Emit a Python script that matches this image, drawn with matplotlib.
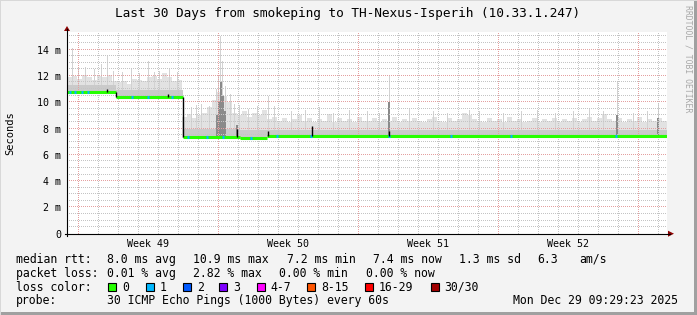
import numpy as np
import matplotlib.pyplot as plt
from matplotlib.patches import Rectangle, Polygon

# 等宽字体，和 rrdtool 的图接近
plt.rcParams['font.family'] = ['DejaVu Sans Mono']

# ---- 数据 (单位 ms, x 为距图起点的天数) ----
col_width = 0.25
smoke_top = [11.9, 12.0, 11.8, 12.1, 11.9, 11.7, 12.0, 11.9, 12.1, 11.6,
             11.5, 11.6, 11.4, 11.8, 11.7, 11.6, 11.9, 12.0, 11.8, 12.2, 11.9, 11.6, 11.7,
             8.9, 9.1, 8.8, 9.0, 9.2, 9.6, 10.2, 10.8, 10.5, 10.0, 9.2, 9.0, 9.3, 8.9, 9.2, 9.0, 9.4,
             8.7, 8.9, 8.6, 8.8, 8.5, 8.7, 9.0, 8.6, 8.8, 8.5, 8.7, 8.6, 9.1, 8.5, 8.8, 8.6, 8.7, 8.5, 8.9, 8.6,
             8.6, 8.8, 8.5, 8.7, 8.6, 8.9, 8.5, 8.7, 8.6, 8.8, 8.6, 8.5, 8.7, 8.9, 8.6, 8.5, 8.8, 8.6, 8.7, 9.2,
             9.0, 8.7, 8.6, 8.5, 8.8, 8.6, 8.7, 8.5, 8.9, 8.6, 8.7, 8.5, 8.6, 8.8, 8.5, 8.7, 8.6, 8.8, 8.5, 8.7,
             8.6, 8.8, 8.5, 8.7, 8.9, 8.6, 8.8, 9.1, 8.7, 8.6, 8.8, 8.5, 8.7, 8.6, 8.9, 8.5, 8.7, 8.6, 8.8, 8.6]

median_days = [0, 2.47, 5.8, 8.65, 10.0, 30]
median_vals = [10.8, 10.4, 7.38, 7.27, 7.42]
band_vals = [11.3, 10.9, 7.95, 7.85, 7.9]

# 细的高烟柱
spike_days = [0.25, 0.55, 0.9, 1.35, 1.7, 2.0, 2.3, 2.75, 3.2, 3.6, 4.05, 4.35, 4.6, 5.1, 5.5,
              6.2, 6.45, 6.7, 7.1, 7.45, 7.55, 7.65, 7.75, 7.9, 8.15, 8.35, 8.6, 9.05, 9.5,
              10.05, 10.35, 11.2, 11.9, 12.6, 13.3, 14.1, 15.0, 15.6, 16.1, 17.1, 18.3, 19.0,
              20.1, 20.6, 21.8, 22.7, 23.5, 24.4, 25.3, 26.1, 26.8, 27.5, 28.3, 29.0, 29.55]
spike_tops = [14.1, 12.6, 12.7, 12.5, 12.9, 13.6, 12.4, 12.3, 12.5, 12.2, 13.1, 12.3, 12.4, 12.5, 12.3,
              9.6, 9.8, 9.9, 9.7, 11.0, 12.0, 15.0, 13.1, 11.2, 10.6, 9.9, 9.8, 9.5, 9.7,
              10.5, 9.7, 9.3, 9.4, 9.6, 9.2, 9.4, 9.3, 9.2, 12.1, 9.5, 9.3, 9.2,
              9.4, 9.3, 9.2, 9.3, 9.4, 9.2, 9.3, 9.5, 9.3, 11.5, 9.2, 9.3, 9.9]
dark_days = [7.5, 7.6, 7.7, 7.8, 7.9, 16.1, 27.5, 29.55, 8.5]
dark_tops = [9.0, 10.0, 11.5, 10.5, 9.3, 10.0, 9.0, 8.8, 8.3]

loss1_days = [0.15, 0.4, 0.75, 1.05, 3.25, 4.05, 5.25, 6.05, 6.98, 7.78, 9.2, 10.5,
              12.2, 16.1, 19.18, 22.2, 27.45]
black_days = [2.0, 5.05, 8.5, 10.05, 12.25, 16.1]
black_tops = [11.0, 10.6, 8.0, 7.8, 8.2, 7.8]

y_ticks = [0, 2, 4, 6, 8, 10, 12, 14]
y_labels = ['0', '2 m', '4 m', '6 m', '8 m', '10 m', '12 m', '14 m']
week_lines = [0.55, 7.55, 14.55, 21.55, 28.55]
week_label_pos = [4.05, 11.05, 18.05, 25.05]
week_labels = ['Week 49', 'Week 50', 'Week 51', 'Week 52']

loss_names = ['0', '1', '2', '3', '4-7', '8-15', '16-29', '30/30']
loss_cols = ['#26ff00', '#00b8ff', '#0059ff', '#7e00ff', '#ff00ff', '#ff5500', '#ff0000', '#a10000']
loss_box_x = [108, 145.7, 182.7, 219, 256.7, 307, 365, 430.7]

W, H = 697, 315
fig = plt.figure(figsize=(W / 100, H / 100), dpi=100, facecolor='#f3f3f3')


def fx(px):
    return px / W


def fy(py):
    return 1 - py / H


x0, x1, yb, yt = 67, 667, 233.7, 32
ymax = 15.34
ax = fig.add_axes([fx(x0), fy(yb), fx(x1) - fx(x0), fy(yt) - fy(yb)])
ax.set_facecolor('white')
ax.set_xlim(0, 30)
ax.set_ylim(0, ymax)
for s in ax.spines.values():
    s.set_visible(False)


def med_at(d):
    i = np.searchsorted(median_days, d, side='right') - 1
    return median_vals[min(max(i, 0), len(median_vals) - 1)]


# 烟雾
xs = np.arange(len(smoke_top)) * col_width
bot = np.array([med_at(x + col_width / 2) for x in xs]) - 0.1
ax.bar(xs, np.array(smoke_top) - bot, bottom=bot, width=col_width, align='edge',
       color='#e2e2e2', linewidth=0, zorder=1)
sb = np.array([med_at(d) for d in spike_days])
ax.bar(spike_days, np.array(spike_tops) - sb, bottom=sb, width=0.05,
       color='#d2d2d2', linewidth=0, zorder=1.1)
for i in range(len(median_vals)):
    ax.fill_between([median_days[i], median_days[i + 1]], median_vals[i] - 0.1, band_vals[i],
                    color='#cacaca', linewidth=0, zorder=1.2)
db = np.array([med_at(d) for d in dark_days])
ax.bar(dark_days, np.array(dark_tops) - db, bottom=db, width=0.1,
       color='#8a8a8a', linewidth=0, zorder=1.5)

# 点状网格 (每 2 像素一个点)
px_x = 30 / (x1 - x0)
px_y = ymax / (yb - yt)
gx = np.arange(0, 30, 2 * px_x)
gy = np.arange(0, ymax, 2 * px_y)
for k in range(30):
    d = 0.55 + k
    c = '#e4a0a0' if d in week_lines else '#c4c4c4'
    ax.plot(np.full_like(gy, d), gy, ',', color=c, zorder=3)
for v in np.arange(0.5, ymax, 0.5):
    c = '#e4a0a0' if v % 2 == 0 else '#c4c4c4'
    ax.plot(gx, np.full_like(gx, v), ',', color=c, zorder=3)

# 中位数线
for i in range(len(median_vals)):
    ax.hlines(median_vals[i], median_days[i], median_days[i + 1], color='#26ff00', lw=2.2, zorder=4)
    if i > 0 and abs(median_vals[i] - median_vals[i - 1]) > 0.2:
        ax.vlines(median_days[i], median_vals[i], median_vals[i - 1], color='black', lw=1.0, zorder=5)
for d in loss1_days:
    ax.hlines(med_at(d), d - 0.05, d + 0.05, color='#00b8ff', lw=2.2, zorder=5)
for d, t in zip(black_days, black_tops):
    ax.vlines(d, med_at(d), t, color='black', lw=1.0, zorder=5)

ax.set_yticks(y_ticks)
ax.set_yticklabels(y_labels, fontsize=7.2)
ax.set_xticks(week_label_pos)
ax.set_xticklabels(week_labels, fontsize=7.2)
ax.tick_params(length=0, pad=4)
ax.set_ylabel('Seconds', fontsize=7.5, labelpad=16)

# 坐标轴线和箭头
fig.add_artist(plt.Line2D([fx(x0), fx(x0)], [fy(yb + 2), fy(29)], color='black', lw=0.8))
fig.add_artist(plt.Line2D([fx(x0 - 2), fx(670)], [fy(yb), fy(yb)], color='black', lw=0.8))
fig.add_artist(Polygon([[fx(x0 - 3), fy(31)], [fx(x0 + 3), fy(31)], [fx(x0), fy(26)]],
                       closed=True, color='#8b0000', lw=0))
fig.add_artist(Polygon([[fx(668), fy(yb - 3)], [fx(668), fy(yb + 3)], [fx(674), fy(yb)]],
                       closed=True, color='#8b0000', lw=0))

fig.text(fx(348), fy(14), 'Last 30 Days from smokeping to TH-Nexus-Isperih (10.33.1.247)',
         ha='center', va='center', fontsize=9.2)
fig.text(fx(688), fy(5), 'RRDTOOL / TOBI OETIKER', rotation=270, ha='center', va='top',
         fontsize=5.9, color='#a8a8a8')

# 图例
fs = 8.3
rows = [259.3, 273.3, 287.3, 300.7]
items = [
    (16, rows[0], 'median rtt:'), (107, rows[0], '8.0 ms avg'), (193, rows[0], '10.9 ms max'),
    (286.7, rows[0], '7.2 ms min'), (372.7, rows[0], '7.4 ms now'), (459, rows[0], '1.3 ms sd'),
    (537.7, rows[0], '6.3'), (579.3, rows[0], 'am/s'),
    (16, rows[1], 'packet loss:'), (107, rows[1], '0.01 % avg'), (193.3, rows[1], '2.82 % max'),
    (279.3, rows[1], '0.00 % min'), (366, rows[1], '0.00 % now'),
    (16, rows[2], 'loss color:'),
    (16, rows[3], 'probe:'), (107, rows[3], '30 ICMP Echo Pings (1000 Bytes) every 60s'),
    (513.3, rows[3], 'Mon Dec 29 09:29:23 2025'),
]
for x, y, s in items:
    fig.text(fx(x), fy(y), s, ha='left', va='center', fontsize=fs)
for name, c, bx in zip(loss_names, loss_cols, loss_box_x):
    fig.add_artist(Rectangle((fx(bx), fy(rows[2] + 4)), fx(8), 8 / H, facecolor=c,
                             edgecolor='black', lw=0.8))
    fig.text(fx(bx + 14), fy(rows[2]), name, ha='left', va='center', fontsize=fs)

# 外框
fig.add_artist(Rectangle((fx(W - 3), 0), fx(3), 1, color='#a0a0a0', lw=0))
fig.add_artist(Rectangle((0, 0), 1, 3 / H, color='#a0a0a0', lw=0))
fig.add_artist(Rectangle((0, 0), fx(1), 1, color='#d8d8d8', lw=0))
fig.add_artist(Rectangle((0, fy(1)), 1, 1 / H, color='#d8d8d8', lw=0))

fig.savefig('out.png', dpi=100, facecolor=fig.get_facecolor())
